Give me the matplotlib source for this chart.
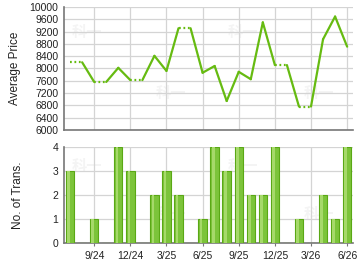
import numpy as np
import matplotlib
matplotlib.use("Agg")
from matplotlib import pyplot as plt

plt.rcParams['font.family'] = ['Liberation Sans', 'Noto Sans CJK SC', 'DejaVu Sans']

# monthly data, 7/24 .. 6/26
months = ['7/24', '8/24', '9/24', '10/24', '11/24', '12/24', '1/25', '2/25', '3/25', '4/25',
          '5/25', '6/25', '7/25', '8/25', '9/25', '10/25', '11/25', '12/25', '1/26', '2/26',
          '3/26', '4/26', '5/26', '6/26']
prices = [8200, 8200, 7560, 7560, 8020, 7620, 7620, 8410, 7920, 9310,
          9310, 7860, 8080, 6940, 7890, 7650, 9500, 8110, 8110, 6760,
          6760, 8950, 9690, 8710]
counts = [3, 0, 1, 0, 4, 3, 0, 2, 3, 2, 0, 1, 4, 3, 4, 2, 2, 4, 0, 1, 0, 2, 1, 4]

x = np.arange(len(months))
tick_pos = x[2::3]
tick_lbl = months[2::3]

line_col = '#66bb11'
grid_col = '#d4d4d4'
spine_col = '#777777'

fig = plt.figure(figsize=(3.6, 2.7), dpi=100)
ax1 = fig.add_axes([0.178, 0.519, 0.803, 0.455])
ax2 = fig.add_axes([0.178, 0.100, 0.803, 0.356])

for ax in (ax1, ax2):
    ax.set_xlim(-0.5, len(months) - 0.5)
    ax.set_xticks(tick_pos)
    ax.grid(True, color=grid_col, linewidth=0.9)
    ax.set_axisbelow(True)
    for s in ('top', 'right'):
        ax.spines[s].set_visible(False)
    for s in ('left', 'bottom'):
        ax.spines[s].set_color(spine_col)
        ax.spines[s].set_linewidth(1.2)
    ax.tick_params(axis='both', labelsize=7.5, colors='#222222', length=2, width=0.8)
    ax.tick_params(axis='y', length=0, pad=4)
    ax.tick_params(axis='x', color=spine_col)

# price line: dotted where next month has no transactions
for i in range(len(months) - 1):
    style = (0, (0.8, 1.2)) if counts[i + 1] == 0 else '-'
    ax1.plot(x[i:i + 2], prices[i:i + 2], linestyle=style, color=line_col,
             linewidth=1.6, solid_capstyle='round')
ax1.set_ylim(6000, 10000)
ax1.set_yticks(np.arange(6000, 10001, 400))
ax1.set_xticklabels([])
ax1.tick_params(axis='x', length=0)
ax1.set_ylabel('Average Price', fontsize=8.5, color='#222222')
ax1.yaxis.set_label_coords(-0.15, 0.5)

# bars with simple highlight
ax2.bar(x, counts, width=0.7, color='#7cc43a', edgecolor='#5aa815', linewidth=0.8, zorder=3)
ax2.bar(x - 0.12, counts, width=0.22, color='#a6d96a', linewidth=0, zorder=4)
ax2.set_ylim(0, 4)
ax2.set_yticks([0, 1, 2, 3, 4])
ax2.set_xticklabels(tick_lbl)
ax2.set_ylabel('No. of Trans.', fontsize=8.5, color='#222222')
ax2.yaxis.set_label_coords(-0.14, 0.5)

# faint watermarks
wm = dict(fontsize=11, color='#f4f4f4', fontweight='bold', ha='center', va='center',
          family=['Noto Sans CJK SC'], zorder=0)
for ax in (ax1, ax2):
    for (tx, ty) in [(0.08, 0.8), (0.37, 0.3), (0.62, 0.8), (0.88, 0.3)]:
        ax.text(tx, ty, '科一', transform=ax.transAxes, **wm)

fig.savefig('out.png', dpi=100)
